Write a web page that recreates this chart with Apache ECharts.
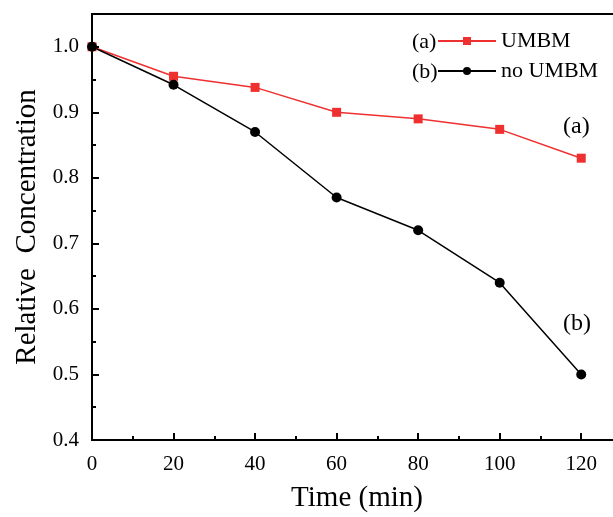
<!DOCTYPE html>
<html>
<head>
<meta charset="utf-8">
<script src="https://cdn.jsdelivr.net/npm/echarts@6/dist/echarts.min.js"></script>
<style>
html, body { margin: 0; padding: 0; background: #fff; }
#main { width: 613px; height: 517px; }
</style>
</head>
<body>
<div id="main"></div>
<script>
// time points (min)
var times = [0, 20, 40, 60, 80, 100, 120];
// relative concentration
var umbm = [1.0, 0.955, 0.938, 0.9, 0.89, 0.874, 0.83];
var noUmbm = [1.0, 0.942, 0.87, 0.77, 0.72, 0.64, 0.5];

var font = 'Liberation Serif';
var chart = echarts.init(document.getElementById('main'));

function pairs(arr) {
	return times.map(function(t, i) { return [t, arr[i]]; });
}

var option = {
	animation: false,
	backgroundColor: '#fff',
	grid: {
		left: 92, top: 14, width: 530, bottom: 77,
		outerBoundsMode: 'none', containLabel: false,
		show: true, borderColor: '#000', borderWidth: 2
	},
	legend: {
		left: 432, top: 25,
		orient: 'vertical',
		itemWidth: 58, itemHeight: 10, itemGap: 8,
		textStyle: { fontFamily: font, fontSize: 22, color: '#000' },
		data: ['UMBM', 'no UMBM']
	},
	graphic: [
		{ type: 'text', left: 412, top: 31, style: { text: '(a)', font: '22px "Liberation Serif"', fill: '#000' } },
		{ type: 'text', left: 412, top: 61, style: { text: '(b)', font: '22px "Liberation Serif"', fill: '#000' } },
		{ type: 'text', left: 563, top: 115, style: { text: '(a)', font: '24px "Liberation Serif"', fill: '#000' } },
		{ type: 'text', left: 563, top: 312, style: { text: '(b)', font: '24px "Liberation Serif"', fill: '#000' } }
	],
	xAxis: {
		type: 'value', min: 0, max: 130, interval: 20,
		name: 'Time (min)', nameLocation: 'middle', nameGap: 44,
		nameTextStyle: { fontFamily: font, fontSize: 29, color: '#000' },
		axisLine: { lineStyle: { color: '#000', width: 2 } },
		axisTick: { inside: true, length: 7, lineStyle: { width: 2 } },
		minorTick: { show: true, splitNumber: 2, length: 4, lineStyle: { color: '#000', width: 2 } },
		splitLine: { show: false },
		axisLabel: { showMaxLabel: false, margin: 14, fontFamily: font, fontSize: 21, color: '#000' }
	},
	yAxis: {
		type: 'value', min: 0.4, max: 1.05, interval: 0.1,
		name: 'Relative  Concentration', nameLocation: 'middle', nameGap: 45,
		nameTextStyle: { fontFamily: font, fontSize: 29, color: '#000' },
		axisLine: { lineStyle: { color: '#000', width: 2 } },
		axisTick: { inside: true, length: 7, lineStyle: { width: 2 } },
		minorTick: { show: true, splitNumber: 2, length: 4, lineStyle: { color: '#000', width: 2 } },
		splitLine: { show: false },
		axisLabel: {
			showMaxLabel: false, margin: 13, fontFamily: font, fontSize: 21, color: '#000',
			formatter: function(v) { return v.toFixed(1); }
		}
	},
	series: [
		{
			name: 'UMBM', type: 'line', data: pairs(umbm),
			symbol: 'rect', symbolSize: 9,
			lineStyle: { color: '#ee3030', width: 1.5 },
			itemStyle: { color: '#ee3030' }
		},
		{
			name: 'no UMBM', type: 'line', data: pairs(noUmbm),
			symbol: 'circle', symbolSize: 10,
			lineStyle: { color: '#000', width: 1.5 },
			itemStyle: { color: '#000' }
		}
	]
};
chart.setOption(option);
</script>
</body>
</html>
